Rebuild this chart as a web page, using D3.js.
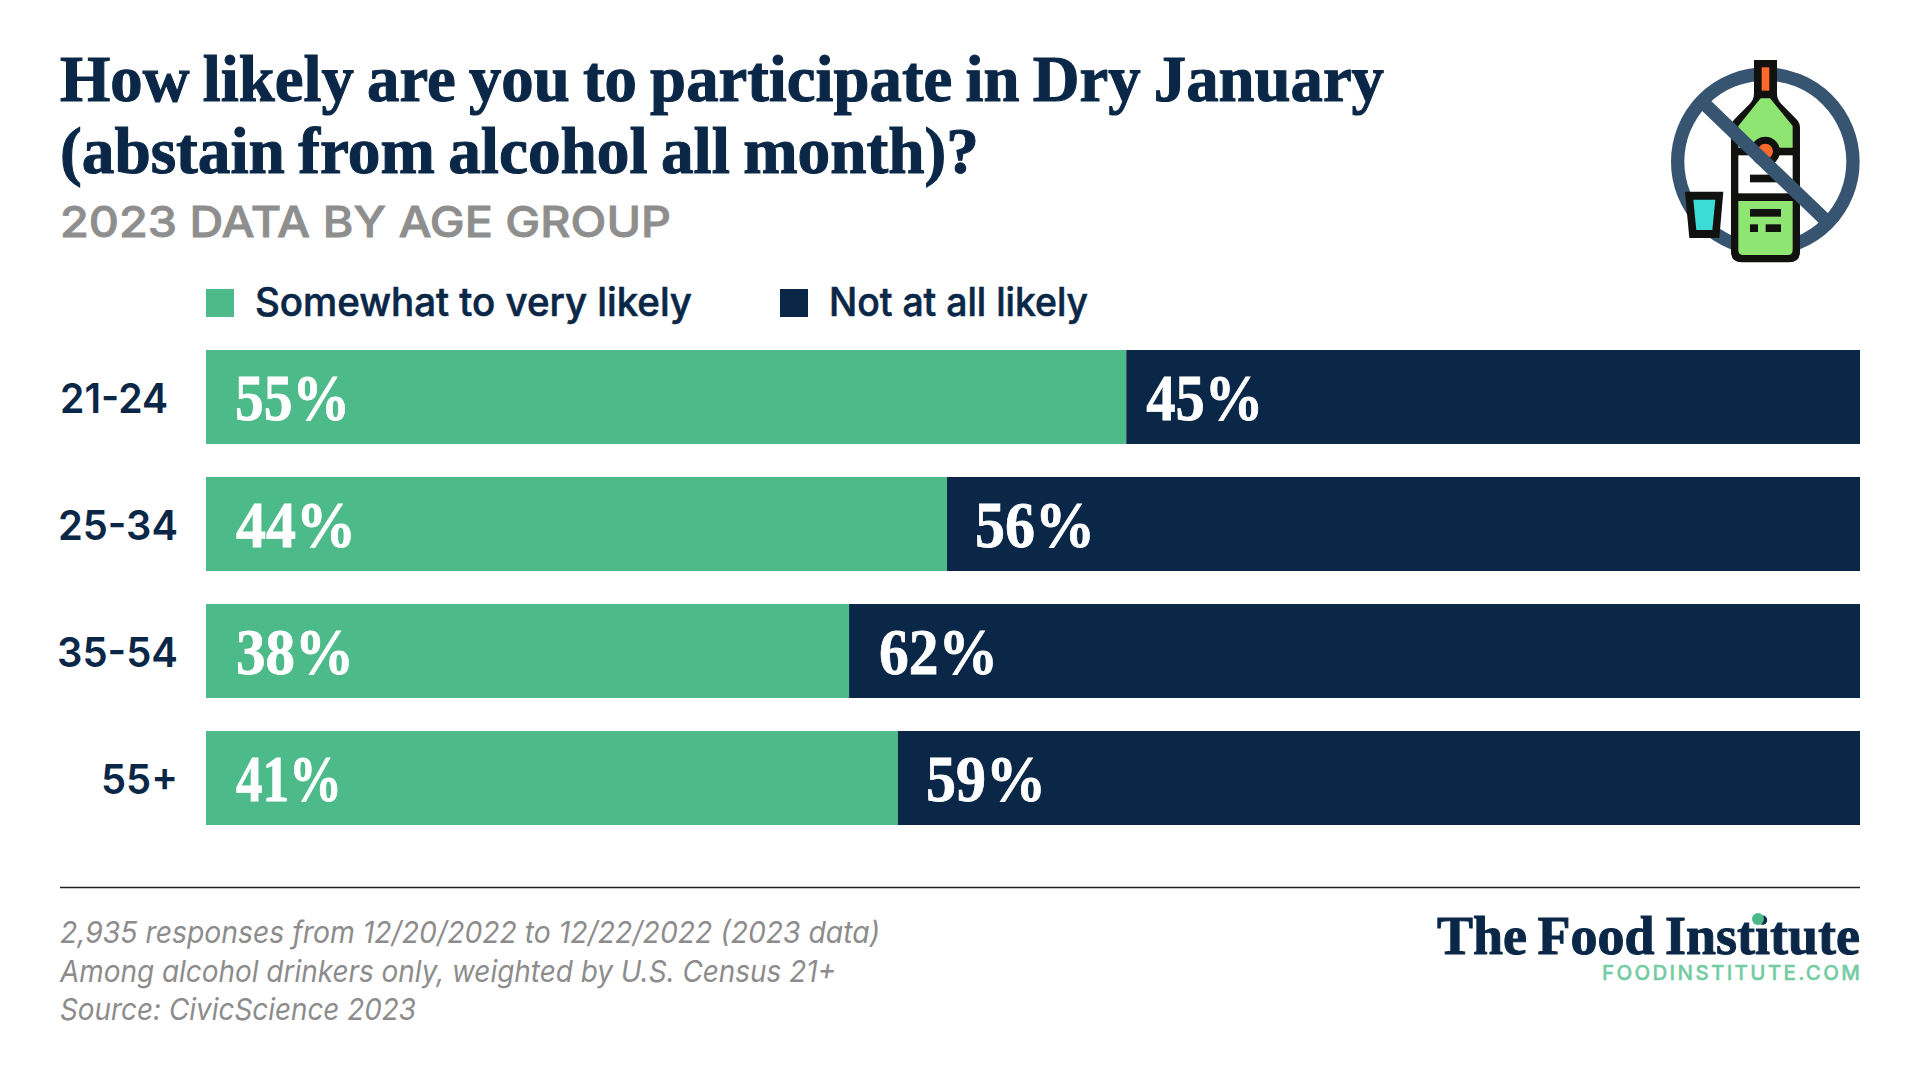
<!DOCTYPE html>
<html><head><meta charset="utf-8">
<script src="https://cdn.jsdelivr.net/npm/d3@7"></script>
<style>html,body{margin:0;padding:0;background:#fff}svg{display:block}text{font-kerning:normal}</style>
</head><body><svg id="c" width="1920" height="1080"></svg>
<script>
const categories = ["21-24","25-34","35-54","55+"];
const likely = [55,44,38,41];
const notLikely = [45,56,62,59];
const legendLabels = ["Somewhat to very likely","Not at all likely"];
const titleLines = ["How likely are you to participate in Dry January","(abstain from alcohol all month)?"];
const subtitle = "2023 DATA BY AGE GROUP";
const notes = ["2,935 responses from 12/20/2022 to 12/22/2022 (2023 data)","Among alcohol drinkers only, weighted by U.S. Census 21+","Source: CivicScience 2023"];

const GREEN="#4dba8a", NAVY="#0a2747", SERIF="'Liberation Serif',serif", SANS="Inter,sans-serif";
const svg=d3.select("#c");
const x=d3.scaleLinear().domain([-1.44,100]).range([206,1860]);
const y=d3.scaleBand().domain(categories).range([350,825]).paddingInner(33/127).paddingOuter(0);

function fit(sel,w){sel.attr("textLength",w).attr("lengthAdjust","spacingAndGlyphs");return sel;}
function heavy(sel,c,w){return sel.attr("stroke",c).attr("stroke-width",w).attr("paint-order","stroke");}

// title
const tw=[1324,919];
titleLines.forEach((t,i)=>heavy(fit(svg.append("text").attr("x",60).attr("y",101+i*72)
  .attr("font-family",SERIF).attr("font-weight",700).attr("font-size",66).attr("word-spacing",-3).attr("fill",NAVY).text(t),tw[i]),NAVY,1.1));
heavy(fit(svg.append("text").attr("x",60).attr("y",237).attr("font-family",SANS).attr("font-weight",500)
  .attr("font-size",43).attr("fill","#8e8e8e").text(subtitle),611),"#8e8e8e",0.8);

// legend
[[206,GREEN,255,437],[780,NAVY,829,259]].forEach((l,i)=>{
  svg.append("rect").attr("x",l[0]).attr("y",289).attr("width",28).attr("height",28).attr("fill",l[1]);
  heavy(fit(svg.append("text").attr("x",l[2]).attr("y",316).attr("font-family",SANS).attr("font-weight",500)
    .attr("font-size",39).attr("fill",NAVY).text(legendLabels[i]),l[3]),NAVY,0.6);
});

// bars
const rows=svg.selectAll("g.row").data(categories).join("g").attr("class","row")
  .attr("transform",d=>`translate(0,${y(d)})`);
rows.append("rect").attr("x",x.range()[0]).attr("height",y.bandwidth())
  .attr("width",(d,i)=>x(likely[i])-x.range()[0]).attr("fill",GREEN);
rows.append("rect").attr("x",(d,i)=>x(likely[i])).attr("height",y.bandwidth())
  .attr("width",(d,i)=>x(100)-x(likely[i])).attr("fill",NAVY);
const rowX=[60,58,57,101], rowW=[108,120,121,77];
rows.append("text").attr("x",(d,i)=>rowX[i]).attr("y",y.bandwidth()/2+15.5)
  .attr("font-family",SANS).attr("font-weight",600).attr("font-size",41).attr("fill",NAVY)
  .attr("textLength",(d,i)=>rowW[i]).attr("lengthAdjust","spacingAndGlyphs").text(d=>d);
const lab=(sel,w)=>heavy(sel.attr("font-family",SERIF).attr("font-weight",700).attr("font-size",66).attr("fill","#fff")
  .attr("y",y.bandwidth()/2+23).attr("textLength",(d,i)=>w[i]).attr("lengthAdjust","spacingAndGlyphs"),"#fff",0.8);
lab(rows.append("text").attr("x",(d,i)=>i==0?235:236).text((d,i)=>likely[i]+"%"),[115,120,118,106]);
const darkGap=[20,28,30,28];
lab(rows.append("text").attr("x",(d,i)=>x(likely[i])+darkGap[i]).text((d,i)=>notLikely[i]+"%"),[117,120,119,120]);

// footer
svg.append("line").attr("x1",60).attr("x2",1860).attr("y1",887.5).attr("y2",887.5).attr("stroke","#222").attr("stroke-width",1.5);
const noteW=[820,776,356];
notes.forEach((t,i)=>fit(svg.append("text").attr("x",60).attr("y",943+i*38.7).attr("font-family",SANS).attr("font-style","italic")
  .attr("font-size",30).attr("fill","#8c8c8c").text(t),noteW[i]));
heavy(fit(svg.append("text").attr("x",1437).attr("y",954).attr("font-family",SERIF).attr("font-weight",700)
  .attr("font-size",55).attr("word-spacing",-3).attr("fill",NAVY).text("The Food Institute"),423),NAVY,1);
svg.append("circle").attr("cx",1758).attr("cy",919).attr("r",6).attr("fill",GREEN);
heavy(svg.append("text").attr("x",1602).attr("y",980).attr("font-family",SANS).attr("font-weight",500)
  .attr("font-size",20.5).attr("textLength",258).attr("lengthAdjust","spacing").attr("fill","#74cba4").text("FOODINSTITUTE.COM"),"#74cba4",0.4);

// icon
const ic=svg.append("g").attr("transform","translate(1640,40) scale(0.3333)");
const K="#11120f",R="#375470";
ic.append("circle").attr("cx",376).attr("cy",365).attr("r",263).attr("fill","none").attr("stroke",R).attr("stroke-width",40);
ic.append("path").attr("fill",K).attr("d","M342 60H411V160Q411 178 422 190L468 236Q480 248 480 262V635Q480 667 448 667H305Q273 667 273 635V262Q273 248 285 236L331 190Q342 178 342 160Z");
ic.append("path").attr("fill","#8fe572").attr("d","M362 175H390L458 258V323H295V258Z");
ic.append("rect").attr("x",295).attr("y",346).attr("width",163).attr("height",114).attr("fill","#fff");
ic.append("path").attr("fill","#8fe572").attr("d","M295 483H458V630Q458 645 443 645H310Q295 645 295 630Z");
ic.append("rect").attr("x",365).attr("y",82).attr("width",23).attr("height",70).attr("fill","#ff6a2b");
ic.append("circle").attr("cx",376).attr("cy",334).attr("r",44).attr("fill",K);
ic.append("circle").attr("cx",376).attr("cy",334).attr("r",23).attr("fill","#ff6a2b");
[[330,404,92,23],[330,507,93,23],[330,553,24,23],[377,553,46,23]].forEach(r=>ic.append("rect").attr("x",r[0]).attr("y",r[1]).attr("width",r[2]).attr("height",r[3]).attr("fill",K));
ic.append("line").attr("x1",195).attr("y1",193).attr("x2",552).attr("y2",536).attr("stroke",R).attr("stroke-width",40);
ic.append("path").attr("fill",K).attr("d","M135 455H250L238 594H148Z");
ic.append("path").attr("fill","#3ddbd6").attr("d","M160 479H226L217 570H169Z");
</script></body></html>
